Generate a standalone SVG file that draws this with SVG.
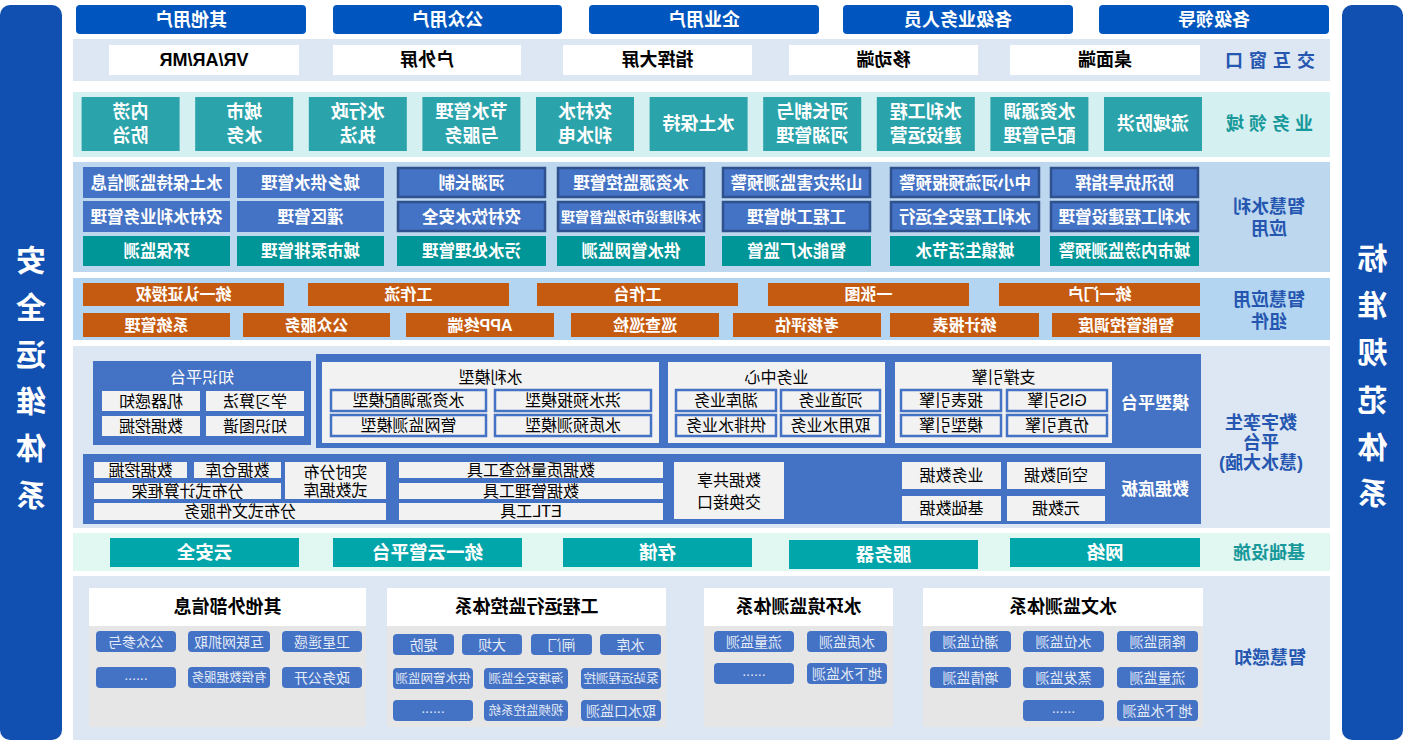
<svg xmlns="http://www.w3.org/2000/svg" width="1405" height="742" viewBox="0 0 1405 742">
<style>
text{font-family:"Liberation Sans","Noto Sans CJK SC",sans-serif;text-anchor:middle;dominant-baseline:central}
.b{font-weight:bold}
.wt{fill:#fff}
.kt{fill:#000}
.side{fill:#1150B1}
.sidet{fill:#fff;font-weight:bold;font-size:30px}
.user{fill:#0056BE}
.ut{fill:#fff;font-weight:bold;font-size:18px}
.bandA{fill:#DCE7F3}
.bandB{fill:#D4F0F1}
.bandC{fill:#BDD7EE}
.bandD{fill:#B3D5F1}
.bandE{fill:#E0F7F2}
.lblB{fill:#2556B0;font-weight:bold;font-size:18px}
.lblT{fill:#17989A;font-weight:bold;font-size:18px}
.wbox{fill:#fff}
.wboxt{fill:#000;font-weight:bold;font-size:18px}
.dom{fill:#2AA3AB}
.domt{fill:#fff;font-weight:bold;font-size:18px}
.app{fill:#4472C4}
.appb{fill:#4472C4;stroke:#2F528F;stroke-width:2.5}
.appg{fill:#009597}
.appt{fill:#fff;font-weight:bold;font-size:16.5px}
.org{fill:#C55A11}
.orgt{fill:#fff;font-weight:bold;font-size:16px}
.blue{fill:#4472C4}
.pan{fill:#F2F2F2}
.sub{fill:#F2F2F2;stroke:#4472C4;stroke-width:2.5}
.t16{fill:#000;font-size:16px}
.infra{fill:#00A6AA}
.infrat{fill:#fff;font-weight:bold;font-size:18.5px}
.sp{fill:#E6E6E6}
.sph{fill:#fff}
.spht{fill:#000;font-weight:bold;font-size:18px}
.it{fill:#4472C4}
.itt{fill:#E4ECF8;font-size:14px}
.itt2{fill:#E4ECF8;font-size:12.5px}
</style>
<rect width="1405" height="742" fill="#fff"/>
<g transform="matrix(-1 0 0 1 1405 0)">
<g id="connectors"/>

<g id="std-column">
<rect class="side" x="2" y="5" width="61" height="735" rx="10"/>
<text class="sidet" x="32.5" y="258">标</text>
<text class="sidet" x="32.5" y="305">准</text>
<text class="sidet" x="32.5" y="352">规</text>
<text class="sidet" x="32.5" y="400">范</text>
<text class="sidet" x="32.5" y="447">体</text>
<text class="sidet" x="32.5" y="493">系</text>
</g>
<g id="safe-column">
<rect class="side" x="1343" y="5" width="62" height="735" rx="10"/>
<text class="sidet" x="1374" y="260">安</text>
<text class="sidet" x="1374" y="307">全</text>
<text class="sidet" x="1374" y="354">运</text>
<text class="sidet" x="1374" y="401">维</text>
<text class="sidet" x="1374" y="448">体</text>
<text class="sidet" x="1374" y="495">系</text>
</g>

<g id="users">
<rect class="user" x="76" y="5" width="230" height="29" rx="4"/><text class="ut" x="191" y="19.5">各级领导</text>
<rect class="user" x="332" y="5" width="230" height="29" rx="4"/><text class="ut" x="447" y="19.5">各级业务人员</text>
<rect class="user" x="586" y="5" width="230" height="29" rx="4"/><text class="ut" x="701" y="19.5">企业用户</text>
<rect class="user" x="843" y="5" width="229" height="29" rx="4"/><text class="ut" x="957.5" y="19.5">公众用户</text>
<rect class="user" x="1099" y="5" width="230" height="29" rx="4"/><text class="ut" x="1214" y="19.5">其他用户</text>
</g>

<g id="interaction">
<rect class="bandA" x="75" y="39" width="1257" height="42"/>
<text class="lblB" x="138" y="61" style="letter-spacing:6px">交互窗口</text>
<rect class="wbox" x="205" y="45" width="190" height="30"/><text class="wboxt" x="300" y="60">桌面端</text>
<rect class="wbox" x="427" y="45" width="189" height="30"/><text class="wboxt" x="521.5" y="60">移动端</text>
<rect class="wbox" x="653" y="45" width="189" height="30"/><text class="wboxt" x="747.5" y="60">指挥大屏</text>
<rect class="wbox" x="884" y="45" width="188" height="30"/><text class="wboxt" x="978" y="60">户外屏</text>
<rect class="wbox" x="1106" y="45" width="190" height="30"/><text class="wboxt" x="1201" y="60">VR/AR/MR</text>
</g>

<g id="domain">
<rect class="bandB" x="75" y="92" width="1257" height="65"/>
<text class="lblT" x="138" y="124" style="letter-spacing:5px">业务领域</text>
<rect class="dom" x="203" y="97" width="98" height="54"/><text class="domt" x="252" y="124">流域防洪</text>
<rect class="dom" x="316.6" y="97" width="98" height="54"/><text class="domt" x="365.6" y="112">水资源调</text><text class="domt" x="365.6" y="136">配与管理</text>
<rect class="dom" x="430.2" y="97" width="98" height="54"/><text class="domt" x="479.2" y="112">水利工程</text><text class="domt" x="479.2" y="136">建设运营</text>
<rect class="dom" x="543.8" y="97" width="98" height="54"/><text class="domt" x="592.8" y="112">河长制与</text><text class="domt" x="592.8" y="136">河湖管理</text>
<rect class="dom" x="657.4" y="97" width="98" height="54"/><text class="domt" x="706.4" y="124">水土保持</text>
<rect class="dom" x="771" y="97" width="98" height="54"/><text class="domt" x="820" y="112">农村水</text><text class="domt" x="820" y="136">利水电</text>
<rect class="dom" x="884.6" y="97" width="98" height="54"/><text class="domt" x="933.6" y="112">节水管理</text><text class="domt" x="933.6" y="136">与服务</text>
<rect class="dom" x="998.2" y="97" width="98" height="54"/><text class="domt" x="1047.2" y="112">水行政</text><text class="domt" x="1047.2" y="136">执法</text>
<rect class="dom" x="1111.8" y="97" width="98" height="54"/><text class="domt" x="1160.8" y="112">城市</text><text class="domt" x="1160.8" y="136">水务</text>
<rect class="dom" x="1225.4" y="97" width="98" height="54"/><text class="domt" x="1274.4" y="112">内涝</text><text class="domt" x="1274.4" y="136">防治</text>
</g>

<g id="smart-app">
<rect class="bandC" x="75" y="162" width="1257" height="110"/>
<text class="lblB" x="136" y="207">智慧水利</text>
<text class="lblB" x="136" y="229">应用</text>
<rect class="appb" x="207" y="168" width="147" height="29"/><text class="appt" x="280.5" y="182.5">防汛抗旱指挥</text>
<rect class="appb" x="366" y="168" width="148" height="29"/><text class="appt" x="440" y="182.5">中小河流预报预警</text>
<rect class="appb" x="535" y="168" width="147" height="29"/><text class="appt" x="608.5" y="182.5">山洪灾害监测预警</text>
<rect class="appb" x="701" y="168" width="146" height="29"/><text class="appt" x="774" y="182.5">水资源监控管理</text>
<rect class="appb" x="860" y="168" width="147" height="29"/><text class="appt" x="933.5" y="182.5">河湖长制</text>
<rect class="app" x="1021" y="167" width="147" height="31"/><text class="appt" x="1094.5" y="182.5">城乡供水管理</text>
<rect class="app" x="1175" y="167" width="147" height="31"/><text class="appt" x="1248.5" y="182.5">水土保持监测信息</text>

<rect class="appb" x="207" y="202" width="147" height="29"/><text class="appt" x="280.5" y="216.5">水利工程建设管理</text>
<rect class="appb" x="366" y="202" width="148" height="29"/><text class="appt" x="440" y="216.5">水利工程安全运行</text>
<rect class="appb" x="535" y="202" width="147" height="29"/><text class="appt" x="608.5" y="216.5">工程工地管理</text>
<rect class="appb" x="701" y="202" width="146" height="29"/><text class="appt" x="774" y="216.5" style="font-size:14px">水利建设市场监督管理</text>
<rect class="appb" x="860" y="202" width="147" height="29"/><text class="appt" x="933.5" y="216.5">农村饮水安全</text>
<rect class="app" x="1021" y="201" width="147" height="31"/><text class="appt" x="1094.5" y="216.5">灌区管理</text>
<rect class="app" x="1175" y="201" width="147" height="31"/><text class="appt" x="1248.5" y="216.5">农村水利业务管理</text>

<rect class="appg" x="206" y="236" width="149" height="30"/><text class="appt" x="280.5" y="251">城市内涝监测预警</text>
<rect class="appg" x="365" y="236" width="150" height="30"/><text class="appt" x="440" y="251">城镇生活节水</text>
<rect class="appg" x="534" y="236" width="149" height="30"/><text class="appt" x="608.5" y="251">智能水厂监管</text>
<rect class="appg" x="700" y="236" width="148" height="30"/><text class="appt" x="774" y="251">供水管网监测</text>
<rect class="appg" x="859" y="236" width="149" height="30"/><text class="appt" x="933.5" y="251">污水处理管理</text>
<rect class="appg" x="1021" y="236" width="147" height="30"/><text class="appt" x="1094.5" y="251">城市泵排管理</text>
<rect class="appg" x="1175" y="236" width="147" height="30"/><text class="appt" x="1248.5" y="251">环保监测</text>
</g>

<g id="components">
<rect class="bandD" x="75" y="278" width="1257" height="62"/>
<text class="lblB" x="136" y="300">智慧应用</text>
<text class="lblB" x="136" y="322">组件</text>
<rect class="org" x="205" y="283" width="201" height="23"/><text class="orgt" x="305.5" y="294.5">统一门户</text>
<rect class="org" x="436" y="283" width="201" height="23"/><text class="orgt" x="536.5" y="294.5">一张图</text>
<rect class="org" x="667" y="283" width="201" height="23"/><text class="orgt" x="767.5" y="294.5">工作台</text>
<rect class="org" x="896" y="283" width="201" height="23"/><text class="orgt" x="996.5" y="294.5">工作流</text>
<rect class="org" x="1121" y="283" width="201" height="23"/><text class="orgt" x="1221.5" y="294.5">统一认证授权</text>
<rect class="org" x="205" y="313" width="148" height="24"/><text class="orgt" x="279" y="325">智能管控调度</text>
<rect class="org" x="366" y="313" width="149" height="24"/><text class="orgt" x="440.5" y="325">统计报表</text>
<rect class="org" x="524" y="313" width="148" height="24"/><text class="orgt" x="598" y="325">考核评估</text>
<rect class="org" x="686" y="313" width="148" height="24"/><text class="orgt" x="760" y="325">巡查巡检</text>
<rect class="org" x="851" y="313" width="148" height="24"/><text class="orgt" x="925" y="325">APP终端</text>
<rect class="org" x="1015" y="313" width="147" height="24"/><text class="orgt" x="1088.5" y="325">公众服务</text>
<rect class="org" x="1175" y="313" width="147" height="24"/><text class="orgt" x="1248.5" y="325">系统管理</text>
</g>

<g id="digital-twin">
<rect class="bandA" x="75" y="346" width="1257" height="182"/>
<text class="lblB" x="144" y="423">数字孪生</text>
<text class="lblB" x="144" y="443">平台</text>
<text class="lblB" x="144" y="463">(慧水大脑)</text>
</g>

<g id="model-platform">
<rect class="blue" x="204" y="354" width="885" height="94"/>
<text class="wt b" x="250" y="403" style="font-size:17px">模型平台</text>
<rect class="pan" x="293" y="362" width="217" height="81"/>
<text class="t16" x="401.5" y="377">支撑引擎</text>
<rect class="sub" x="298" y="390" width="100" height="21"/><text class="t16" x="348" y="400.5">GIS引擎</text>
<rect class="sub" x="404" y="390" width="100" height="21"/><text class="t16" x="454" y="400.5">报表引擎</text>
<rect class="sub" x="298" y="415" width="100" height="21"/><text class="t16" x="348" y="425.5">仿真引擎</text>
<rect class="sub" x="404" y="415" width="100" height="21"/><text class="t16" x="454" y="425.5">模型引擎</text>
<rect class="pan" x="520" y="362" width="217" height="81"/>
<text class="t16" x="628.5" y="377">业务中心</text>
<rect class="sub" x="525" y="390" width="99" height="21"/><text class="t16" x="574.5" y="400.5">河道业务</text>
<rect class="sub" x="629" y="390" width="100" height="21"/><text class="t16" x="679" y="400.5">湖库业务</text>
<rect class="sub" x="525" y="415" width="99" height="21"/><text class="t16" x="574.5" y="425.5">取用水业务</text>
<rect class="sub" x="629" y="415" width="100" height="21"/><text class="t16" x="679" y="425.5">供排水业务</text>
<rect class="pan" x="746" y="362" width="337" height="81"/>
<text class="t16" x="914.5" y="377">水利模型</text>
<rect class="sub" x="754" y="390" width="156" height="21"/><text class="t16" x="832" y="400.5">洪水预报模型</text>
<rect class="sub" x="919" y="390" width="155" height="21"/><text class="t16" x="996.5" y="400.5">水资源调配模型</text>
<rect class="sub" x="754" y="415" width="156" height="21"/><text class="t16" x="832" y="425.5">水质预测模型</text>
<rect class="sub" x="919" y="415" width="155" height="21"/><text class="t16" x="996.5" y="425.5">管网监测模型</text>
</g>

<g id="knowledge-platform">
<rect class="blue" x="1094" y="361" width="218" height="84"/>
<text class="wt" x="1203" y="377" style="font-size:16px">知识平台</text>
<rect class="pan" x="1101" y="391" width="98" height="20"/><text class="t16" x="1150" y="401">学习算法</text>
<rect class="pan" x="1205" y="391" width="98" height="20"/><text class="t16" x="1254" y="401">机器感知</text>
<rect class="pan" x="1101" y="416" width="98" height="20"/><text class="t16" x="1150" y="426">知识图谱</text>
<rect class="pan" x="1205" y="416" width="98" height="20"/><text class="t16" x="1254" y="426">数据挖掘</text>
</g>

<g id="data-base">
<rect class="blue" x="204" y="454" width="1118" height="70"/>
<text class="wt b" x="250" y="489" style="font-size:17px">数据底板</text>
<rect class="pan" x="300" y="462" width="98" height="27"/><text class="t16" x="349" y="475.5">空间数据</text>
<rect class="pan" x="404" y="462" width="99" height="27"/><text class="t16" x="453.5" y="475.5">业务数据</text>
<rect class="pan" x="300" y="496" width="98" height="25"/><text class="t16" x="349" y="508.5">元数据</text>
<rect class="pan" x="404" y="496" width="99" height="25"/><text class="t16" x="453.5" y="508.5">基础数据</text>
<rect class="pan" x="621" y="462" width="110" height="57"/>
<text class="t16" x="676" y="480">数据共享</text>
<text class="t16" x="676" y="502">交换接口</text>
<rect class="pan" x="742" y="462" width="264" height="16"/><text class="t16" x="874" y="470">数据质量检查工具</text>
<rect class="pan" x="742" y="483" width="264" height="16"/><text class="t16" x="874" y="491">数据管理工具</text>
<rect class="pan" x="742" y="503" width="264" height="17"/><text class="t16" x="874" y="511.5">ETL工具</text>
<rect class="pan" x="1019" y="462" width="101" height="37"/>
<text class="t16" x="1069.5" y="472">实时分布</text>
<text class="t16" x="1069.5" y="490">式数据库</text>
<rect class="pan" x="1124" y="462" width="87" height="16"/><text class="t16" x="1167.5" y="470">数据仓库</text>
<rect class="pan" x="1218" y="462" width="93" height="16"/><text class="t16" x="1264.5" y="470">数据挖掘</text>
<rect class="pan" x="1124" y="483" width="187" height="16"/><text class="t16" x="1217.5" y="491">分布式计算框架</text>
<rect class="pan" x="1019" y="503" width="292" height="17"/><text class="t16" x="1165" y="511.5">分布式文件服务</text>
</g>

<g id="infrastructure">
<rect class="bandE" x="75" y="533" width="1257" height="38"/>
<text class="lblT" x="136" y="553">基础设施</text>
<rect class="infra" x="205" y="538" width="190" height="29"/><text class="infrat" x="300" y="552.5">网络</text>
<rect class="infra" x="427" y="540" width="189" height="29"/><text class="infrat" x="521.5" y="554.5">服务器</text>
<rect class="infra" x="653" y="538" width="189" height="29"/><text class="infrat" x="747.5" y="552.5">存储</text>
<rect class="infra" x="883" y="538" width="189" height="29"/><text class="infrat" x="977.5" y="552.5">统一云管平台</text>
<rect class="infra" x="1106" y="538" width="189" height="29"/><text class="infrat" x="1200.5" y="552.5">云安全</text>
</g>

<g id="perception">
<rect class="bandA" x="75" y="576" width="1257" height="164"/>
<text class="lblB" x="135" y="658">智慧感知</text>
</g>

<g id="hydro">
<rect class="sp" x="202" y="588" width="280" height="139"/>
<rect class="sph" x="202" y="588" width="280" height="38"/>
<text class="spht" x="342" y="607">水文监测体系</text>
<rect class="it" x="207" y="631" width="81" height="21" rx="4"/><text class="itt" x="247.5" y="641.5">降雨监测</text>
<rect class="it" x="301" y="631" width="81" height="21" rx="4"/><text class="itt" x="341.5" y="641.5">水位监测</text>
<rect class="it" x="394" y="631" width="81" height="21" rx="4"/><text class="itt" x="434.5" y="641.5">潮位监测</text>
<rect class="it" x="207" y="667" width="81" height="21" rx="4"/><text class="itt" x="247.5" y="677.5">流量监测</text>
<rect class="it" x="301" y="667" width="81" height="21" rx="4"/><text class="itt" x="341.5" y="677.5">蒸发监测</text>
<rect class="it" x="394" y="667" width="81" height="21" rx="4"/><text class="itt" x="434.5" y="677.5">墒情监测</text>
<rect class="it" x="207" y="700" width="81" height="21" rx="4"/><text class="itt" x="247.5" y="710.5">地下水监测</text>
<rect class="it" x="301" y="700" width="81" height="21" rx="4"/><text class="itt" x="341.5" y="708">......</text>
</g>

<g id="water-env">
<rect class="sp" x="512" y="588" width="189" height="139"/>
<rect class="sph" x="512" y="588" width="189" height="38"/>
<text class="spht" x="606.5" y="607">水环境监测体系</text>
<rect class="it" x="518" y="631" width="80" height="21" rx="4"/><text class="itt" x="558" y="641.5">水质监测</text>
<rect class="it" x="611" y="631" width="80" height="21" rx="4"/><text class="itt" x="651" y="641.5">流量监测</text>
<rect class="it" x="518" y="663" width="80" height="21" rx="4"/><text class="itt" x="558" y="673.5">地下水监测</text>
<rect class="it" x="611" y="663" width="80" height="21" rx="4"/><text class="itt" x="651" y="671">......</text>
</g>

<g id="engineering">
<rect class="sp" x="739" y="588" width="279" height="139"/>
<rect class="sph" x="739" y="588" width="279" height="38"/>
<text class="spht" x="878.5" y="607">工程运行监控体系</text>
<rect class="it" x="744" y="634" width="61" height="21" rx="4"/><text class="itt" x="774.5" y="644.5">水库</text>
<rect class="it" x="813" y="634" width="61" height="21" rx="4"/><text class="itt" x="843.5" y="644.5">闸门</text>
<rect class="it" x="883" y="634" width="60" height="21" rx="4"/><text class="itt" x="913" y="644.5">大坝</text>
<rect class="it" x="951" y="634" width="61" height="21" rx="4"/><text class="itt" x="981.5" y="644.5">堤防</text>
<rect class="it" x="744" y="668" width="80" height="21" rx="4"/><text class="itt2" x="784" y="678.5">泵站远程测控</text>
<rect class="it" x="837" y="668" width="84" height="21" rx="4"/><text class="itt2" x="879" y="678.5">海塘安全监测</text>
<rect class="it" x="932" y="668" width="80" height="21" rx="4"/><text class="itt2" x="972" y="678.5">供水管网监测</text>
<rect class="it" x="744" y="700" width="80" height="21" rx="4"/><text class="itt" x="784" y="710.5">取水口监测</text>
<rect class="it" x="837" y="700" width="84" height="21" rx="4"/><text class="itt2" x="879" y="710.5">视频监控系统</text>
<rect class="it" x="932" y="700" width="80" height="21" rx="4"/><text class="itt" x="972" y="708">......</text>
</g>

<g id="external">
<rect class="sp" x="1039" y="588" width="277" height="139"/>
<rect class="sph" x="1039" y="588" width="277" height="38"/>
<text class="spht" x="1177.5" y="607">其他外部信息</text>
<rect class="it" x="1043" y="631" width="80" height="21" rx="4"/><text class="itt" x="1083" y="641.5">卫星遥感</text>
<rect class="it" x="1135" y="631" width="82" height="21" rx="4"/><text class="itt" x="1176" y="641.5">互联网抓取</text>
<rect class="it" x="1229" y="631" width="80" height="21" rx="4"/><text class="itt" x="1269" y="641.5">公众参与</text>
<rect class="it" x="1043" y="667" width="80" height="21" rx="4"/><text class="itt" x="1083" y="677.5">政务公开</text>
<rect class="it" x="1135" y="667" width="82" height="21" rx="4"/><text class="itt2" x="1176" y="677.5">有偿数据服务</text>
<rect class="it" x="1229" y="667" width="80" height="21" rx="4"/><text class="itt" x="1269" y="675">......</text>
</g>
</g>
</svg>
